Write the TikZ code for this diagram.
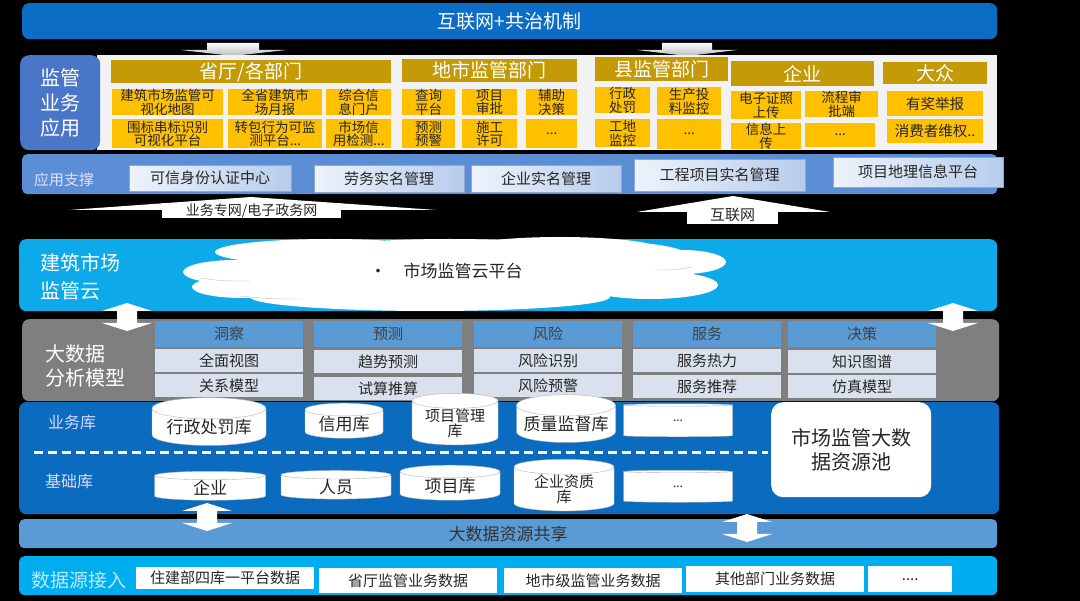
\documentclass[tikz,border=0pt]{standalone}
\usepackage{fontspec}
\setmainfont{Noto Sans CJK SC}
\usetikzlibrary{shapes.geometric}
\definecolor{topblue}{HTML}{0B6DC6}
\definecolor{labblue}{HTML}{4A76C8}
\definecolor{gold}{HTML}{C49A06}
\definecolor{amber}{HTML}{FFC000}
\definecolor{panel}{HTML}{F2F2F2}
\definecolor{supbar}{HTML}{5B8ED4}
\definecolor{supl}{HTML}{EEF3FB}
\definecolor{supr}{HTML}{B7CCEB}
\definecolor{supd}{HTML}{8FA8D0}
\definecolor{cloudc}{HTML}{0DA9E8}
\definecolor{bdgray}{HTML}{7F7F7F}
\definecolor{bdh}{HTML}{5B9BD5}
\definecolor{bdc}{HTML}{D9E1EE}
\definecolor{dbblue}{HTML}{0B6BBF}
\definecolor{sharec}{HTML}{5B9BD5}
\definecolor{srcc}{HTML}{00ADEF}

\begin{document}
\begin{tikzpicture}[x=1pt,y=-1pt,
	box/.style={anchor=north west,inner sep=0pt,align=center},
	band/.style={box,rounded corners=7pt},
	head/.style={box,fill=gold,text=white,font=\fontsize{19}{19}\selectfont},
	item/.style={box,fill=amber,text=black!85,font=\fontsize{13.5}{13.5}\selectfont},
	sup/.style={box,left color=supl,right color=supr,draw=supd,text=black!85,font=\fontsize{15}{15}\selectfont},
	bdhead/.style={box,fill=bdh,text=black!75,minimum width=148,minimum height=26,font=\fontsize{15}{15}\selectfont},
	bdcell/.style={box,fill=bdc,text=black!85,minimum width=148,minimum height=23,font=\fontsize{15}{15}\selectfont},
	db/.style={cylinder,shape border rotate=90,aspect=0.25,draw=gray!60,fill=white,inner sep=0pt,align=center,text=black!85,font=\fontsize{17}{17}\selectfont},
	src/.style={box,fill=white,text=black!85,minimum width=178,font=\fontsize{15}{15}\selectfont},
	side/.style={anchor=west,align=left,inner sep=0pt},
	dblarrow/.pic={\fill[white] (0,-14) -- (25,-6) -- (10,-6) -- (10,6) -- (25,6) -- (0,14) -- (-25,6) -- (-10,6) -- (-10,-6) -- (-25,-6) -- cycle;}
]
\fill[black] (0,0) rectangle (1080,601);
\useasboundingbox (0,0) rectangle (1080,601);

\node[band,fill=topblue,minimum width=975,minimum height=36,text=white,font=\fontsize{19}{19}\selectfont] (top) at (22,3) {互联网+共治机制};
\fill[top color=white,bottom color=gray!55] (207,43) -- (259,43) -- (259,50) -- (286,50) -- (233,56) -- (181,50) -- (207,50) -- cycle;
\fill[top color=white,bottom color=gray!55] (662,43) -- (712,43) -- (712,50) -- (737,50) -- (687,56) -- (637,50) -- (662,50) -- cycle;

\node[box,fill=panel,minimum width=900,minimum height=95] (panel) at (97,55) {};
\node[band,rounded corners=9pt,fill=labblue,minimum width=80,minimum height=95,text=white,font=\fontsize{20}{25}\selectfont] (app) at (20,55) {监管\\业务\\应用};

\node[head,minimum width=280,minimum height=23] (prov) at (111,60) {省厅/各部门};
\node[item,minimum width=111,minimum height=26] (prov1) at (112,89) {建筑市场监管可\\视化地图};
\node[item,minimum width=94,minimum height=26] (prov2) at (228,89) {全省建筑市\\场月报};
\node[item,minimum width=65,minimum height=26] (prov3) at (326,89) {综合信\\息门户};
\node[item,minimum width=111,minimum height=29] (prov4) at (112,119) {围标串标识别\\可视化平台};
\node[item,minimum width=94,minimum height=29] (prov5) at (228,119) {转包行为可监\\测平台...};
\node[item,minimum width=65,minimum height=29] (prov6) at (326,119) {市场信\\用检测...};

\node[head,minimum width=175,minimum height=23] (city) at (402,59) {地市监管部门};
\node[item,minimum width=53,minimum height=26] (city1) at (402,89) {查询\\平台};
\node[item,minimum width=55,minimum height=26] (city2) at (462,89) {项目\\审批};
\node[item,minimum width=51,minimum height=26] (city3) at (526,89) {辅助\\决策};
\node[item,minimum width=53,minimum height=29] (city4) at (402,119) {预测\\预警};
\node[item,minimum width=55,minimum height=29] (city5) at (462,119) {施工\\许可};
\node[item,minimum width=51,minimum height=29] (city6) at (526,119) {...};

\node[head,minimum width=133,minimum height=24] (cnty) at (595,57) {县监管部门};
\node[item,minimum width=55,minimum height=25] (cnty1) at (595,87) {行政\\处罚};
\node[item,minimum width=64,minimum height=28] (cnty2) at (657,87) {生产投\\料监控};
\node[item,minimum width=55,minimum height=28] (cnty3) at (595,119) {工地\\监控};
\node[item,minimum width=64,minimum height=30] (cnty4) at (657,119) {...};

\node[head,minimum width=143,minimum height=25] (firm) at (731,61) {企业};
\node[item,minimum width=70,minimum height=28] (firm1) at (731,91) {电子证照\\上传};
\node[item,minimum width=73,minimum height=26] (firm2) at (805,91) {流程审\\批端};
\node[item,minimum width=70,minimum height=25] (firm3) at (731,123) {信息上\\传};
\node[item,minimum width=70,minimum height=24] (firm4) at (805,123) {...};

\node[head,minimum width=104,minimum height=22] (pub) at (883,62) {大众};
\node[item,minimum width=96,minimum height=25,font=\fontsize{14.5}{14.5}\selectfont] (pub1) at (887,91) {有奖举报};
\node[item,minimum width=96,minimum height=24,font=\fontsize{14.5}{14.5}\selectfont] (pub2) at (887,119) {消费者维权..};

\node[band,rounded corners=5pt,fill=supbar,minimum width=975,minimum height=40] (supp) at (22,154) {};
\node[side,text=white!88!blue,font=\fontsize{15}{15}\selectfont] (supptxt) at (34,180) {应用支撑};
\node[sup,minimum width=162,minimum height=26] (sup1) at (129,165) {可信身份认证中心};
\node[sup,minimum width=150,minimum height=27] (sup2) at (314,165) {劳务实名管理};
\node[sup,minimum width=150,minimum height=27] (sup3) at (471,165) {企业实名管理};
\node[sup,minimum width=171,minimum height=32] (sup4) at (634,159) {工程项目实名管理};
\node[sup,minimum width=170,minimum height=30] (sup5) at (833,157) {项目地理信息平台};

\fill[white] (69,210) -- (251,197) -- (436,210) -- cycle;
\node[box,fill=white,minimum width=179,minimum height=15,text=black!85,font=\fontsize{14}{14}\selectfont] (gov) at (162,203) {业务专网/电子政务网};
\fill[white] (637,212) -- (733,196) -- (830,212) -- cycle;
\node[box,fill=white,minimum width=91,minimum height=18,text=black!85,font=\fontsize{15}{15}\selectfont] (web) at (687,206) {互联网};

\node[band,fill=cloudc,minimum width=978,minimum height=72] (cloudband) at (19,239) {};
\node[side,text=white,font=\fontsize{20}{28}\selectfont] (cloudtxt) at (40,277) {建筑市场\\监管云};
\fill[white] (450,272) ellipse [x radius=215,y radius=33]
	(235,272) ellipse [x radius=52,y radius=12]
	(242,287) ellipse [x radius=50,y radius=11]
	(330,252) ellipse [x radius=115,y radius=13]
	(560,251) ellipse [x radius=105,y radius=14]
	(630,265) ellipse [x radius=70,y radius=22]
	(682,262) ellipse [x radius=44,y radius=12]
	(650,285) ellipse [x radius=68,y radius=14]
	(430,297) ellipse [x radius=180,y radius=14];
\draw[gray!50,thin] (200,278) .. controls (222,281) .. (250,281);
\draw[gray!50,thin] (692,267) .. controls (675,270) .. (655,270);
\draw[gray!50,thin] (240,296) .. controls (270,299) .. (300,299);
\node[text=black!85,font=\fontsize{17}{17}\selectfont] (cloud) at (446,271) {•\quad 市场监管云平台};

\node[band,fill=bdgray,minimum width=977,minimum height=82] (bd) at (22,319) {};
\node[side,text=white,font=\fontsize{20}{24}\selectfont] (bdtxt) at (45,366) {大数据\\分析模型};
\node[bdhead] (bd1) at (155,321) {洞察};
\node[bdcell] (bd1a) at (155,349) {全面视图};
\node[bdcell] (bd1b) at (155,374) {关系模型};
\node[bdhead] (bd2) at (314,321) {预测};
\node[bdcell] (bd2a) at (314,350) {趋势预测};
\node[bdcell] (bd2b) at (314,377) {试算推算};
\node[bdhead] (bd3) at (474,321) {风险};
\node[bdcell] (bd3a) at (474,349) {风险识别};
\node[bdcell] (bd3b) at (474,374) {风险预警};
\node[bdhead] (bd4) at (633,321) {服务};
\node[bdcell] (bd4a) at (633,349) {服务热力};
\node[bdcell] (bd4b) at (633,375) {服务推荐};
\node[bdhead] (bd5) at (788,321) {决策};
\node[bdcell] (bd5a) at (788,350) {知识图谱};
\node[bdcell] (bd5b) at (788,375) {仿真模型};

\node[band,fill=dbblue,minimum width=980,minimum height=112] (dbs) at (19,402) {};
\node[side,text=white!85!blue,font=\fontsize{16}{16}\selectfont] (dbtxt1) at (48,422) {业务库};
\node[side,text=white!85!blue,font=\fontsize{16}{16}\selectfont] (dbtxt2) at (45,481) {基础库};
\node[db,minimum width=114,minimum height=35] (biz1) at (209,427) {行政处罚库};
\node[db,minimum width=78,minimum height=28] (biz2) at (344,424) {信用库};
\node[db,minimum width=86,minimum height=27,font=\fontsize{15}{15}\selectfont] (biz3) at (455,423) {项目管理\\库};
\node[db,minimum width=99,minimum height=29] (biz4) at (566,424) {质量监督库};
\node[db,minimum width=109,minimum height=33,font=\fontsize{12}{12}\selectfont] (biz5) at (678,421) {...};
\draw[white,line width=3pt,dash pattern=on 9pt off 5pt] (34,453) -- (768,453);
\node[db,minimum width=111,minimum height=29] (base1) at (210,488) {企业};
\node[db,minimum width=110,minimum height=26] (base2) at (336,487) {人员};
\node[db,minimum width=100,minimum height=29] (base3) at (450,486) {项目库};
\node[db,minimum width=100,minimum height=31,font=\fontsize{15}{15}\selectfont] (base4) at (564,489) {企业资质\\库};
\node[db,minimum width=109,minimum height=32,font=\fontsize{12}{12}\selectfont] (base5) at (678,487) {...};
\node[box,rounded corners=12pt,fill=white,minimum width=160,minimum height=95,text=black!85,font=\fontsize{20}{24}\selectfont] (pool) at (771,402) {市场监管大数\\据资源池};

\node[band,rounded corners=5pt,fill=sharec,minimum width=978,minimum height=29,text=black!80,font=\fontsize{17}{17}\selectfont] (share) at (19,519) {大数据资源共享};

\node[band,rounded corners=5pt,fill=srcc,minimum width=978,minimum height=39] (srcs) at (19,556) {};
\node[side,text=white!75!cyan,font=\fontsize{19}{19}\selectfont] (srctxt) at (31,580) {数据源接入};
\node[src,minimum height=22] (src1) at (136,567) {住建部四库一平台数据};
\node[src,minimum height=25] (src2) at (319,568) {省厅监管业务数据};
\node[src,minimum height=25] (src3) at (504,568) {地市级监管业务数据};
\node[src,minimum height=26] (src4) at (686,566) {其他部门业务数据};
\node[src,minimum width=84,minimum height=26] (src5) at (868,566) {....};

\pic at (127,317) {dblarrow};
\pic at (953,317) {dblarrow};
\pic at (207,517) {dblarrow};
\pic at (747,528) {dblarrow};
\end{tikzpicture}
\end{document}
